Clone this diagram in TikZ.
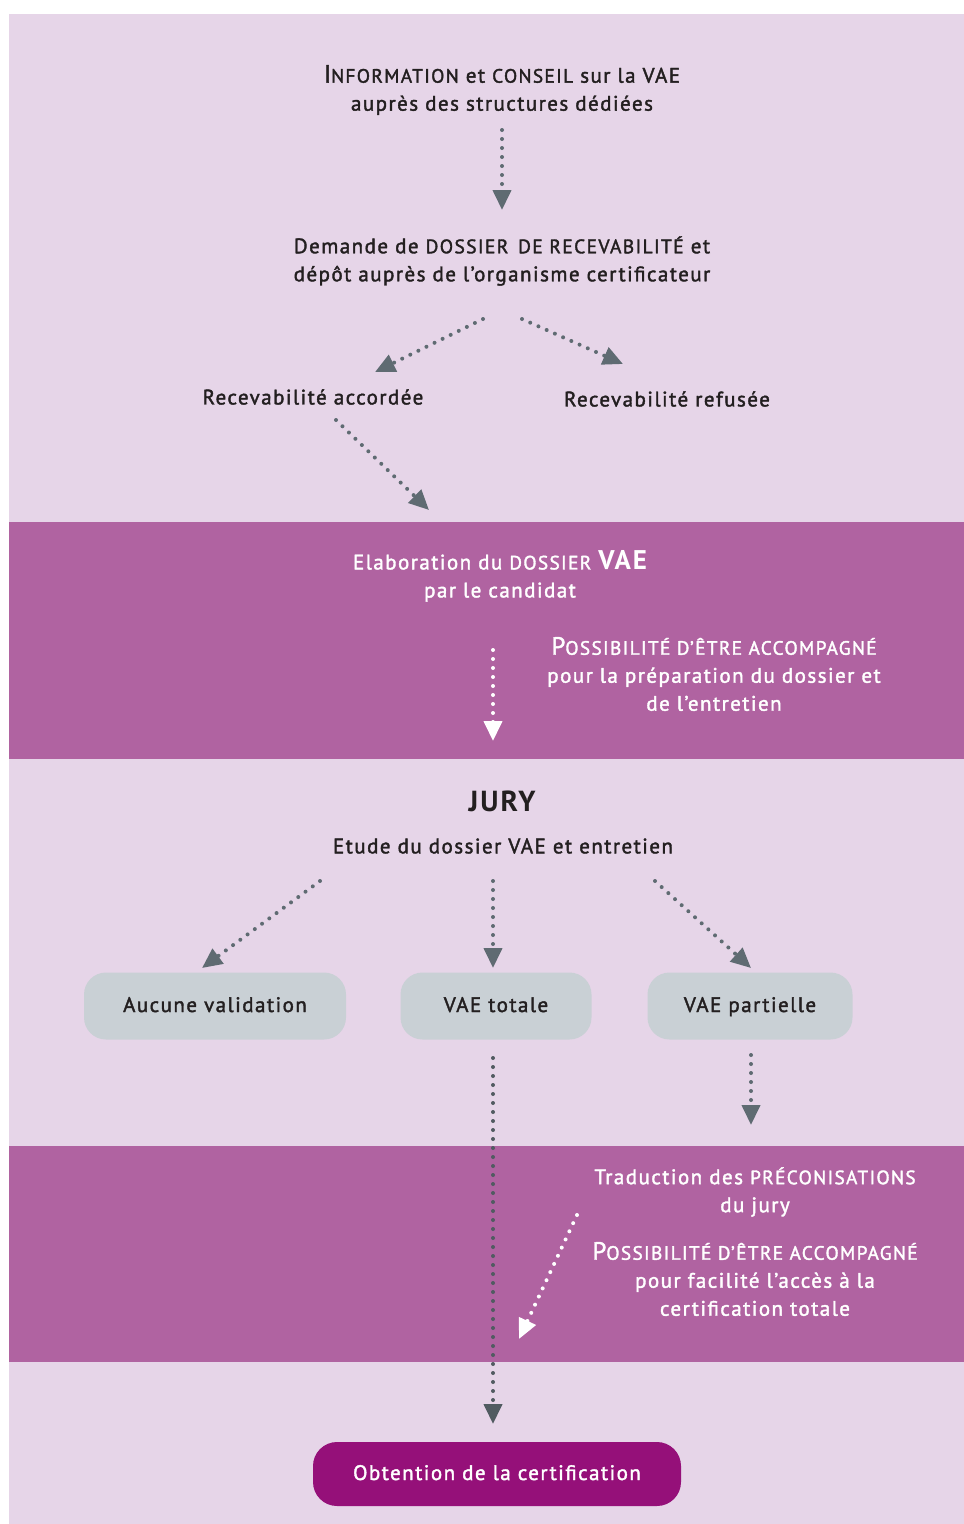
\documentclass[tikz,border=0pt]{standalone}
\usepackage{fontspec}
\setmainfont{PT Sans}[LetterSpace=7, UprightFeatures={FakeBold=1.8}]
\usetikzlibrary{arrows.meta}
\definecolor{bgl}{HTML}{E6D5E8}
\definecolor{band}{HTML}{B063A1}
\definecolor{boxg}{HTML}{C9D0D5}
\definecolor{dmag}{HTML}{951079}
\definecolor{agrey}{HTML}{5F6B72}
\definecolor{txt}{HTML}{231F20}
\newcommand\fsc[1]{{\fontsize{19.3}{28}\selectfont #1}}
\tikzset{
  lbl/.style={align=center, text=txt, font=\fontsize{21}{28}\selectfont},
  wlbl/.style={align=center, text=white, font=\fontsize{21}{28}\selectfont},
  dotarrow/.style={agrey, line width=4pt, line cap=round, dash pattern=on 0pt off 9pt,
    -{Triangle[length=20pt,width=18pt]}},
  wdotarrow/.style={dotarrow, white},
  ddotarrow/.style={dotarrow, draw=agrey!85!black, -{Triangle[length=20pt,width=18pt,fill=agrey!85!black]}},
  gbox/.style={fill=boxg, rounded corners=22pt, minimum height=67pt, text height=15pt, text depth=3pt, text=txt, font=\fontsize{21}{28}\selectfont},
}
\begin{document}
\begin{tikzpicture}[x=1pt,y=-1pt]
\useasboundingbox (0,0) rectangle (964,1524);
\fill[bgl] (9,14) rectangle (964,1524);
\fill[band] (9,522) rectangle (964,759);
\fill[band] (9,1146) rectangle (964,1362);

% texts
\node[lbl] (info) at (502,90) {{\fontsize{25}{28}\selectfont I}\fsc{NFORMATION} et \fsc{CONSEIL} sur la VAE\\auprès des structures dédiées};
\node[lbl] (demande) at (502,261) {Demande de {\fontsize{19.5}{28}\selectfont DOSSIER\, DE RECEVABILITÉ} et\\dépôt auprès de l’organisme certificateur};
\node[lbl] (acc) at (313,397) {Recevabilité accordée};
\node[lbl] (ref) at (667,399) {Recevabilité refusée};
\node[wlbl] (elab) at (500,576) {Elaboration du \fsc{DOSSIER} {\fontsize{27}{28}\selectfont\bfseries VAE}\\par le candidat};
\node[wlbl] (poss1) at (714,674) {{\fontsize{25}{28}\selectfont P}\fsc{OSSIBILITÉ D’ÊTRE ACCOMPAGNÉ}\\pour la préparation du dossier et\\de l’entretien};
\node[lbl, font=\fontsize{29}{30}\selectfont\bfseries] (jury) at (502,801) {JURY};
\node[lbl] (etude) at (503,846) {Etude du dossier VAE et entretien};
\node[gbox, minimum width=262pt] (aucune) at (215,1006) {Aucune validation};
\node[gbox, minimum width=191pt] (totale) at (496,1006) {VAE totale};
\node[gbox, minimum width=205pt] (partielle) at (750,1006) {VAE partielle};
\node[wlbl] (trad) at (755,1192) {Traduction des \fsc{PRÉCONISATIONS}\\du jury};
\node[wlbl] (poss2) at (755,1279) {{\fontsize{25}{28}\selectfont P}\fsc{OSSIBILITÉ D’ÊTRE ACCOMPAGNÉ}\\pour facilité l’accès à la\\certification totale};
\node[fill=dmag, rounded corners=24pt, minimum width=368pt, minimum height=64pt, text height=15pt, text depth=3pt, text=white, font=\fontsize{21}{28}\selectfont] (obt) at (497,1474) {Obtention de la certification};

% connector end points
\coordinate (a1s) at (502,130); \coordinate (a1e) at (502,210);
\coordinate (a2s) at (483,319); \coordinate (a2e) at (375,372);
\coordinate (a3s) at (522,319); \coordinate (a3e) at (623,364);
\coordinate (a4s) at (336,420); \coordinate (a4e) at (429,510);
\coordinate (a5s) at (493,650); \coordinate (a5e) at (493,741);
\coordinate (a6s) at (320,881); \coordinate (a6e) at (202,968);
\coordinate (a7s) at (493,881); \coordinate (a7e) at (493,968);
\coordinate (a8s) at (655,881); \coordinate (a8e) at (751,968);
\coordinate (a9s) at (751,1055); \coordinate (a9e) at (751,1125);
\coordinate (a10s) at (493,1058); \coordinate (a10e) at (493,1424);
\coordinate (a11s) at (577,1215); \coordinate (a11e) at (519,1339);

\draw[dotarrow] (a1s) -- (a1e);
\draw[dotarrow] (a2s) -- (a2e);
\draw[dotarrow] (a3s) -- (a3e);
\draw[dotarrow] (a4s) -- (a4e);
\draw[wdotarrow] (a5s) -- (a5e);
\draw[dotarrow] (a6s) -- (a6e);
\draw[dotarrow] (a7s) -- (a7e);
\draw[dotarrow] (a8s) -- (a8e);
\draw[dotarrow] (a9s) -- (a9e);
\draw[ddotarrow] (a10s) -- (a10e);
\draw[wdotarrow] (a11s) -- (a11e);
\end{tikzpicture}
\end{document}
